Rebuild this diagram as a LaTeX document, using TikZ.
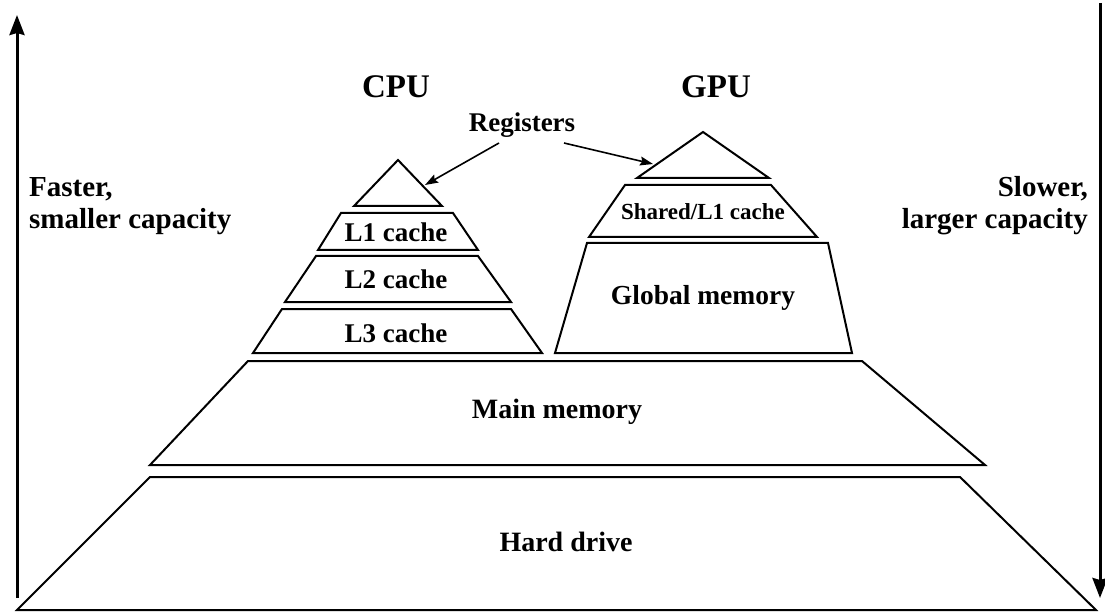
\documentclass[tikz,border=0pt]{standalone}
\usepackage{fontspec}
\setmainfont{Liberation Serif}
\usetikzlibrary{arrows.meta}
\newcommand{\fsz}[1]{\fontsize{#1}{#1}\selectfont\bfseries}
\tikzset{
  layer/.style={draw=black, line width=2pt, line join=miter},
  lbl/.style={inner sep=0pt, anchor=base, font=\fsz{27}},
  sidearrow/.style={line width=3pt, -{Stealth[length=20pt, width=15pt, inset=2pt]}},
  regarrow/.style={line width=1.6pt, -{Stealth[length=13pt, width=9pt, inset=2pt]}},
}
\begin{document}
\begin{tikzpicture}[x=1pt, y=-1pt]
\useasboundingbox (0,0) rectangle (1105,612);

% side arrows
\coordinate (lbot) at (17,598);
\coordinate (ltop) at (17,15);
\coordinate (rtop) at (1100,3);
\coordinate (rbot) at (1100,598);
\draw[sidearrow] (lbot) -- (ltop);
\draw[sidearrow] (rtop) -- (rbot);

% bottom layers
\draw[layer] (150,477) -- (960,477) -- (1096,610) -- (17,610) -- cycle;
\draw[layer] (248,361) -- (862,361) -- (985,465) -- (150,465) -- cycle;

% CPU pyramid
\draw[layer] (398,160) -- (442,206) -- (354,206) -- cycle;
\draw[layer] (341,213) -- (453,213) -- (478,250) -- (318,250) -- cycle;
\draw[layer] (316,256) -- (478,256) -- (511,302) -- (285,302) -- cycle;
\draw[layer] (282,309) -- (511,309) -- (542,353) -- (253,353) -- cycle;

% GPU pyramid
\draw[layer] (703,132) -- (769,178) -- (637,178) -- cycle;
\draw[layer] (625,185) -- (771,185) -- (817,237) -- (589,237) -- cycle;
\draw[layer] (587,243) -- (828,243) -- (852,353) -- (555,353) -- cycle;

% labels
\node[lbl, font=\fsz{33}] (cpu) at (396,98) {CPU};
\node[lbl, font=\fsz{33}] (gpu) at (716,98) {GPU};
\node[lbl] (reg) at (522,132) {Registers};
\node[lbl] (l1) at (396,242) {L1 cache};
\node[lbl] (l2) at (396,288) {L2 cache};
\node[lbl] (l3) at (396,342) {L3 cache};
\node[lbl, font=\fsz{23}] (shared) at (703,220) {Shared/L1 cache};
\node[lbl, font=\fsz{27.5}] (global) at (703,304) {Global memory};
\node[lbl, font=\fsz{28}] (main) at (557,418) {Main memory};
\node[lbl, font=\fsz{28}] (hdd) at (566,551) {Hard drive};

\node[lbl, anchor=base west, font=\fsz{29}] (fast1) at (29,197) {Faster,};
\node[lbl, anchor=base west, font=\fsz{29}] (fast2) at (29,229) {smaller capacity};
\node[lbl, anchor=base east, font=\fsz{29}] (slow1) at (1088,197) {Slower,};
\node[lbl, anchor=base east, font=\fsz{29}] (slow2) at (1088,229) {larger capacity};

% register pointers
\coordinate (regL) at (499,143);
\coordinate (regR) at (564,143);
\coordinate (cpuReg) at (425,185);
\coordinate (gpuReg) at (653,164);
\draw[regarrow] (regL) -- (cpuReg);
\draw[regarrow] (regR) -- (gpuReg);
\end{tikzpicture}
\end{document}
